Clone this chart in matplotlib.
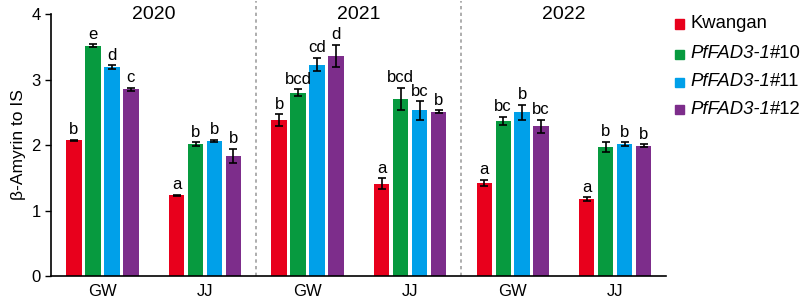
import matplotlib
matplotlib.use("Agg")
import matplotlib.pyplot as plt
from matplotlib.patches import Rectangle
import numpy as np

plt.rcParams['font.family'] = ['Liberation Sans', 'DejaVu Sans']

groups = ["GW", "JJ", "GW", "JJ", "GW", "JJ"]
years = ["2020", "2021", "2022"]
legend_main = ["Kwangan", "PfFAD3-1", "PfFAD3-1", "PfFAD3-1"]
legend_suffix = ["", "#10", "#11", "#12"]
colors = ["#E8001C", "#079A3F", "#00A0E9", "#7D2D8B"]

kwangan = [2.07, 1.23, 2.38, 1.41, 1.42, 1.17]
line10 = [3.52, 2.01, 2.80, 2.70, 2.37, 1.97]
line11 = [3.19, 2.06, 3.23, 2.53, 2.50, 2.01]
line12 = [2.85, 1.83, 3.36, 2.51, 2.29, 1.99]

kwangan_err = [0.01, 0.01, 0.09, 0.08, 0.05, 0.03]
line10_err = [0.02, 0.03, 0.05, 0.17, 0.06, 0.08]
line11_err = [0.03, 0.02, 0.10, 0.14, 0.11, 0.03]
line12_err = [0.02, 0.11, 0.17, 0.02, 0.10, 0.02]

kwangan_sig = ["b", "a", "b", "a", "a", "a"]
line10_sig = ["e", "b", "bcd", "bcd", "bc", "b"]
line11_sig = ["d", "b", "cd", "bc", "b", "b"]
line12_sig = ["c", "b", "d", "b", "bc", "b"]

values = [kwangan, line10, line11, line12]
errors = [kwangan_err, line10_err, line11_err, line12_err]
sigs = [kwangan_sig, line10_sig, line11_sig, line12_sig]

fig = plt.figure(figsize=(8, 3), dpi=100)
ax = fig.add_axes([0.064, 0.08, 0.769, 0.873])

x = np.arange(len(groups))
step = 0.185
width = 0.148
for i in range(4):
    xs = x + (i - 1.5) * step
    ax.bar(xs, values[i], width=width, color=colors[i], zorder=2)
    ax.errorbar(xs, values[i], yerr=errors[i], fmt='none', ecolor='black',
                elinewidth=1.2, capsize=3, capthick=1.2, zorder=3)
    for xx, v, e, s in zip(xs, values[i], errors[i], sigs[i]):
        ax.text(xx, v + e + 0.04, s, ha='center', va='bottom', fontsize=12)

for sep in [1.5, 3.5]:
    ax.axvline(sep, color='#A0A0A0', linestyle=(0, (2, 2)), linewidth=1.2,
               ymin=0, ymax=1.05, clip_on=False)

for k, yr in enumerate(years):
    ax.text(2 * k + 0.5, 4.0, yr, ha='center', va='center', fontsize=14)

ax.set_xlim(-0.5, 5.5)
ax.set_ylim(0, 4)
ax.set_yticks([0, 1, 2, 3, 4])
ax.set_xticks(x)
ax.set_xticklabels(groups, fontsize=12)
ax.tick_params(axis='x', length=0, pad=6)
ax.tick_params(axis='y', labelsize=12, length=4, width=1)
ax.spines['top'].set_visible(False)
ax.spines['right'].set_visible(False)
ax.spines['left'].set_linewidth(1.2)
ax.spines['bottom'].set_linewidth(1.2)
ax.set_ylabel("β-Amyrin to IS", fontsize=12.5)

# manual legend (italic line names with upright suffix)
W, H = 800.0, 300.0
row_y = [24, 54, 82, 110]
for c, main, suf, yy in zip(colors, legend_main, legend_suffix, row_y):
    fig.patches.append(Rectangle((675 / W, 1 - (yy + 4.5) / H), 9 / W, 9 / H,
                                 transform=fig.transFigure, color=c))
    style = 'normal' if suf == "" else 'italic'
    t = fig.text(690 / W, 1 - yy / H, main, fontsize=13.3, style=style,
                 ha='left', va='center')
    if suf:
        ax.annotate(suf, xy=(1, 0), xycoords=t, fontsize=13.3,
                    ha='left', va='bottom', annotation_clip=False)

fig.savefig("out.png", dpi=100)
